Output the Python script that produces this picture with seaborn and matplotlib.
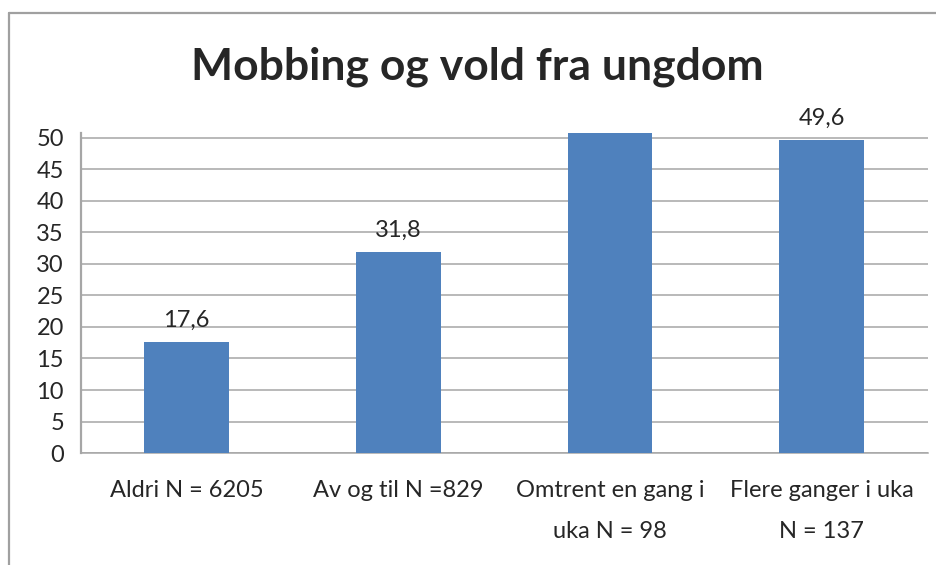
import matplotlib
matplotlib.use("Agg")
import matplotlib.pyplot as plt
import seaborn as sns
import pandas as pd
import numpy as np

categories = ["Aldri N = 6205", "Av og til N =829",
              "Omtrent en gang i\nuka N = 98", "Flere ganger i uka\nN = 137"]
values = [17.6, 31.8, 56.0, 49.6]   # third bar runs past the top of the axis (no label shown)
shown_labels = ["17,6", "31,8", "", "49,6"]
yticks = [0, 5, 10, 15, 20, 25, 30, 35, 40, 45, 50]

df = pd.DataFrame({"kategori": categories, "prosent": values})

sns.set_style("white")
plt.rcParams["font.family"] = ["Lato", "DejaVu Sans"]

fig = plt.figure(figsize=(9.37, 5.65), dpi=100)
ax = fig.add_axes([0.0861, 0.198, 0.9039, 0.5664])

sns.barplot(data=df, x="kategori", y="prosent", color="#4F81BD",
            width=0.4, saturation=1, edgecolor="none", ax=ax, zorder=3)

ax.set_ylim(0, 50.7)
ax.set_xlim(-0.5, 3.5)
ax.set_yticks(yticks)
ax.set_yticklabels([str(t) for t in yticks], fontsize=17)
ax.yaxis.grid(True, color="#a6a6a6", linewidth=1.1, zorder=0)
ax.set_axisbelow(True)
ax.tick_params(axis="y", length=8, width=1, color="#a6a6a6", pad=4)

ax.set_xticks(range(len(categories)))
ax.set_xticklabels(categories, fontsize=17, linespacing=2.2)
ax.tick_params(axis="x", which="major", length=0, pad=19)
ax.set_xticks([0.5, 1.5, 2.5, 3.5], minor=True)
ax.tick_params(axis="x", which="minor", length=8, width=1, color="#a6a6a6")

for s in ["top", "right"]:
    ax.spines[s].set_visible(False)
ax.spines["left"].set_color("#a6a6a6")
ax.spines["left"].set_linewidth(1.6)
ax.spines["bottom"].set_color("#a6a6a6")
ax.spines["bottom"].set_linewidth(1.1)
ax.set_xlabel("")
ax.set_ylabel("")

for p, lab in zip(ax.patches, shown_labels):
    if lab:
        ax.annotate(lab, (p.get_x() + p.get_width() / 2, p.get_height()),
                    xytext=(0, 8), textcoords="offset points",
                    ha="center", va="bottom", fontsize=17)

fig.text(0.509, 0.882, "Mobbing og vold fra ungdom", ha="center", va="center",
         fontsize=32, fontweight="bold")

# outer chart border (left and top visible)
fig.add_artist(plt.Line2D([0.0096, 0.0096], [0, 0.977], color="#a0a0a0", linewidth=1.6))
fig.add_artist(plt.Line2D([0.0096, 1.0], [0.977, 0.977], color="#a0a0a0", linewidth=1.6))

fig.savefig("out.png", dpi=100)
